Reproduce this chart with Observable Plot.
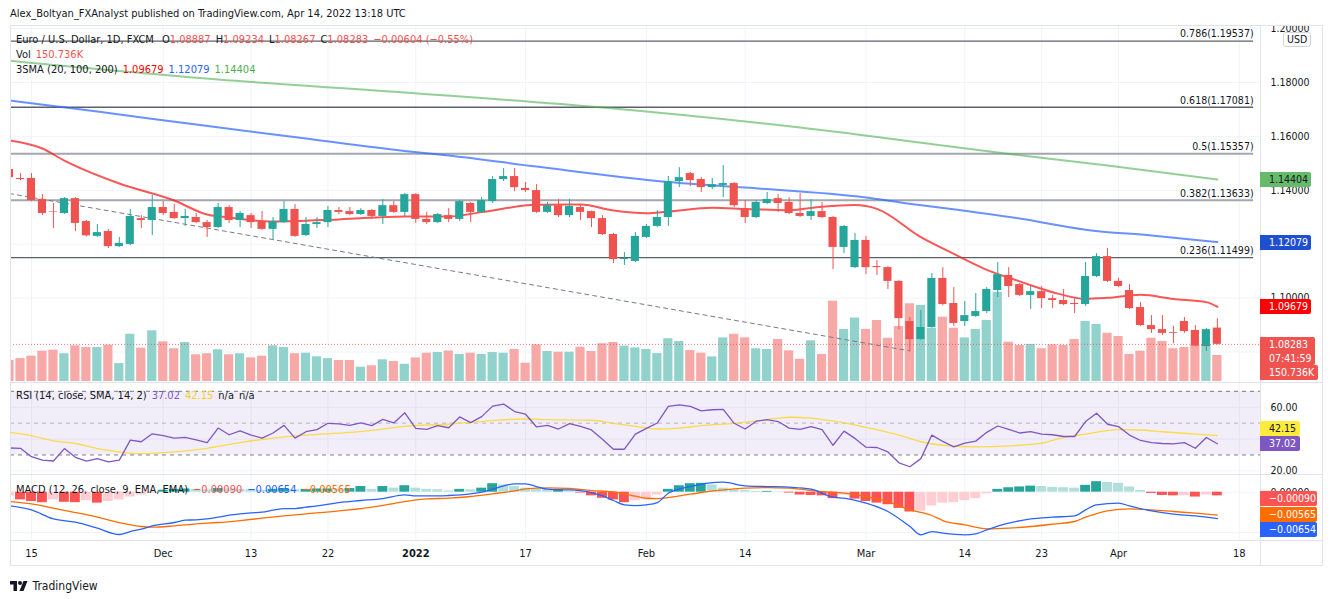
<!DOCTYPE html>
<html>
<head>
<meta charset="utf-8">
<script src="https://cdn.jsdelivr.net/npm/d3@7"></script>
<script src="https://cdn.jsdelivr.net/npm/@observablehq/plot@0.6"></script>
<style>
html,body{margin:0;padding:0;background:#fff;}
#root{position:relative;width:1332px;height:599px;overflow:hidden;background:#fff;color:#131722;
 font-family:"Liberation Sans Narrow","DejaVu Sans Condensed",Roboto,"Liberation Sans",sans-serif;}
.abs{position:absolute;}
.leg{position:absolute;left:16px;font-size:11px;white-space:nowrap;line-height:14px;}
.leg span{margin-right:5px;}
.box{position:absolute;left:1260px;font-size:10.5px;line-height:15px;padding-left:9px;box-sizing:border-box;border-radius:0 2px 2px 0;white-space:nowrap;}
</style>
</head>
<body>
<div id="root"></div>
<script>
// ---------- DATA ----------
const tickIdx = [2, 14, 22, 29, 37, 47, 58, 67, 78, 87, 94, 101, 112];
const tickLabels = ["15","Dec","13","22","2022","17","Feb","14","Mar","14","23","Apr","18"];

const openV = [1.1477,1.1444,1.1444,1.1366,1.1320,1.1314,1.1369,1.1284,1.1229,1.1247,
1.1191,1.1199,1.1295,1.1288,1.1336,1.1318,1.1295,1.1299,1.1280,1.1262,
1.1336,1.1288,1.1306,1.1284,1.1255,1.1280,1.1329,1.1232,1.1273,1.1280,
1.1325,1.1321,1.1310,1.1325,1.1303,1.1343,1.1318,1.1384,1.1292,1.1280,
1.1306,1.1292,1.1351,1.1318,1.1358,1.1440,1.1451,1.1407,1.1399,1.1318,
1.1343,1.1306,1.1336,1.1321,1.1295,1.1236,1.1143,1.1136,1.1225,1.1266,
1.1299,1.1432,1.1462,1.1440,1.1410,1.1418,1.1425,1.1332,1.1299,1.1351,
1.1369,1.1355,1.1314,1.1303,1.1321,1.1299,1.1188,1.1113,1.1214,1.1117,
1.1113,1.1062,1.0913,1.0846,1.0891,1.1073,1.0980,1.0913,1.0932,1.0950,
1.1028,1.1084,1.1050,1.1010,1.1024,1.0998,1.0991,1.0980,1.0976,1.1080,
1.1154,1.1062,1.1028,1.0965,1.0898,1.0883,1.0872,1.0913,1.0880,1.0820,1.08887];
const highV = [1.1484,1.1462,1.1462,1.1384,1.1351,1.1373,1.1373,1.1288,1.1273,1.1255,
1.1225,1.1329,1.1306,1.1381,1.1358,1.1347,1.1329,1.1314,1.1288,1.1351,
1.1343,1.1321,1.1314,1.1321,1.1299,1.1358,1.1347,1.1299,1.1299,1.1340,
1.1336,1.1336,1.1332,1.1329,1.1366,1.1358,1.1388,1.1388,1.1318,1.1314,
1.1332,1.1362,1.1355,1.1373,1.1451,1.1481,1.1481,1.1429,1.1421,1.1355,
1.1366,1.1366,1.1343,1.1323,1.1306,1.1240,1.1169,1.1243,1.1273,1.1325,
1.1451,1.1484,1.1466,1.1447,1.1444,1.1492,1.1429,1.1362,1.1362,1.1392,
1.1384,1.1373,1.1388,1.1366,1.1355,1.1303,1.1269,1.1240,1.1229,1.1139,
1.1117,1.1065,1.0928,1.0954,1.1091,1.1113,1.1039,1.0987,1.1017,1.1039,
1.1132,1.1113,1.1054,1.1043,1.1043,1.1010,1.1032,1.0998,1.1132,1.1165,
1.1184,1.1073,1.1050,1.0984,1.0935,1.0935,1.0895,1.0928,1.0898,1.0887,1.09234];
const lowV = [1.1440,1.1436,1.1358,1.1306,1.1258,1.1310,1.1247,1.1227,1.1225,1.1184,
1.1188,1.1195,1.1258,1.1232,1.1306,1.1292,1.1266,1.1277,1.1225,1.1258,
1.1277,1.1262,1.1258,1.1251,1.1217,1.1277,1.1225,1.1229,1.1258,1.1262,
1.1310,1.1306,1.1306,1.1292,1.1273,1.1314,1.1303,1.1277,1.1273,1.1277,
1.1280,1.1284,1.1280,1.1314,1.1351,1.1432,1.1395,1.1392,1.1314,1.1314,
1.1299,1.1299,1.1288,1.1262,1.1232,1.1128,1.1121,1.1132,1.1221,1.1262,
1.1266,1.1410,1.1414,1.1392,1.1403,1.1373,1.1336,1.1277,1.1295,1.1347,
1.1318,1.1310,1.1299,1.1288,1.1295,1.1106,1.1165,1.1110,1.1087,1.1084,
1.1032,1.0883,1.0802,1.0844,1.0889,1.0972,1.0895,1.0895,1.0928,1.0943,
1.1002,1.1002,1.1006,1.0958,1.0961,1.0961,1.0972,1.0943,1.0969,1.1076,
1.1058,1.1039,1.0958,1.0895,1.0869,1.0861,1.0831,1.0869,1.0820,1.0802,1.08267];
const closeV = [1.1447,1.1440,1.1362,1.1314,1.1318,1.1369,1.1277,1.1231,1.1243,1.1191,
1.1203,1.1303,1.1288,1.1336,1.1314,1.1295,1.1303,1.1280,1.1262,1.1336,
1.1288,1.1314,1.1280,1.1255,1.1284,1.1329,1.1229,1.1273,1.1280,1.1325,
1.1318,1.1310,1.1325,1.1303,1.1343,1.1318,1.1384,1.1292,1.1280,1.1310,
1.1292,1.1358,1.1318,1.1362,1.1440,1.1451,1.1410,1.1399,1.1318,1.1343,
1.1306,1.1340,1.1318,1.1295,1.1236,1.1143,1.1147,1.1229,1.1266,1.1299,
1.1432,1.1447,1.1436,1.1410,1.1421,1.1425,1.1343,1.1299,1.1355,1.1366,
1.1351,1.1314,1.1303,1.1321,1.1299,1.1188,1.1266,1.1214,1.1113,1.1113,
1.1062,1.0924,1.0846,1.0891,1.1073,1.0976,1.0906,1.0935,1.0950,1.1032,
1.1087,1.1043,1.1010,1.1024,1.0998,1.0991,1.0976,1.0976,1.1080,1.1154,
1.1062,1.1043,1.0961,1.0898,1.0883,1.0869,1.0869,1.0876,1.0822,1.0883,1.08283];
const volK = [122,133,147,176,182,161,207,197,197,211,
104,274,193,294,230,190,226,155,161,184,
155,161,137,147,207,197,161,164,143,133,
122,122,83,91,126,116,100,137,164,168,
177,157,164,157,168,164,186,106,213,174,
170,170,199,174,219,226,205,195,186,162,
248,232,180,164,143,253,274,253,190,186,
244,178,129,236,157,466,302,368,302,354,
251,319,451,441,309,373,309,253,302,354,
518,228,209,215,190,213,209,244,348,331,
280,261,157,176,251,232,190,197,209,209,150.736];

const sma20 = [[0,1.1585],[3,1.1555],[5,1.1510],[10,1.1425],[15,1.1362],[18,1.1310],[20,1.1299],[24,1.1284],[30,1.1292],[36,1.1303],[40,1.1303],[43,1.1319],[48,1.1346],[52,1.1347],[55,1.1325],[58,1.1315],[60,1.1321],[64,1.1335],[67,1.1331],[71,1.1326],[74,1.1339],[77,1.1345],[79,1.1331],[83,1.1226],[86,1.1164],[89,1.1105],[92,1.1062],[95,1.1022],[98,1.0997],[100,1.1001],[103,1.1012],[106,1.0997],[109,1.0985],[110,1.09679]];
const sma100 = [[0,1.1733],[8,1.1692],[17,1.1644],[27,1.1592],[36,1.1546],[40,1.1529],[48,1.1488],[60,1.1431],[67,1.1410],[78,1.1373],[81,1.1356],[92,1.1295],[98,1.1254],[104,1.1232],[110,1.12079]];
const sma200 = [[0,1.1881],[19,1.1811],[36,1.1763],[54,1.1707],[72,1.1633],[90,1.1540],[100,1.1492],[110,1.14404]];

const fibLevels = ["0.786","0.618","0.5","0.382","0.236"];
const fibPrices = [1.19537,1.17081,1.15357,1.13633,1.11499];
const trendLine = [[0,1.1388],[82,1.0804]];
const priceTicks = [1.08,1.10,1.12,1.14,1.16,1.18,1.20];

const rsiV = [34.4,34.2,28.9,26.8,26.2,34.0,28.5,26.2,27.7,25.6,
26.8,39.3,38.3,43.3,42.1,40.6,41.0,39.5,37.8,46.9,
42.7,45.2,42.5,40.6,43.8,48.6,40.6,44.6,45.9,49.9,
49.5,48.6,50.1,48.4,52.4,50.1,56.5,46.7,46.1,48.4,
47.1,53.9,50.3,54.1,60.7,62.0,57.3,55.6,47.6,48.6,
46.3,49.7,48.0,45.7,39.9,33.6,33.6,43.1,46.7,50.1,
60.5,61.5,60.5,57.7,58.4,58.6,49.9,46.3,51.2,52.2,
51.0,46.9,46.1,47.8,45.9,36.1,45.0,40.4,34.9,34.7,
31.9,25.1,22.6,27.7,42.5,38.5,35.1,37.4,38.7,44.2,
48.2,46.1,43.8,44.6,43.1,42.7,41.6,41.6,51.0,56.2,
49.3,47.8,42.5,39.1,37.8,37.2,37.0,37.8,34.2,41.0,37.02];
const rsiSma = [[0,44.2],[2,42.1],[4,38.9],[6,37.2],[8,34.0],[10,31.9],[12,30.8],[15,31.9],[18,34.2],[21,37.8],[24,40.6],[27,42.5],[31,44.2],[34,46.3],[36,48.0],[40,49.3],[44,51.6],[47,52.6],[49,52.2],[53,51.8],[55,49.9],[57,48.0],[59,46.3],[61,46.9],[63,48.4],[66,49.9],[68,51.2],[70,53.1],[71,53.7],[73,53.1],[76,50.1],[78,47.4],[81,42.5],[83,38.3],[85,36.1],[88,35.1],[91,35.7],[94,37.4],[96,41.0],[98,43.1],[101,45.9],[103,45.7],[105,44.6],[108,43.1],[110,42.15]];
const rsiGrid = [20,40,60];
const rsiTickLabels = [20,60];

const macdLine = [[0,-0.00338],[2,-0.00437],[4,-0.00660],[6,-0.00742],[8,-0.00890],[10,-0.01047],[11,-0.00973],[12,-0.00915],[13,-0.00833],[15,-0.00750],[16,-0.00692],[17,-0.00684],[18,-0.00660],[19,-0.00618],[20,-0.00569],[21,-0.00536],[22,-0.00511],[23,-0.00495],[24,-0.00445],[25,-0.00404],[26,-0.00404],[27,-0.00371],[28,-0.00338],[30,-0.00256],[32,-0.00206],[34,-0.00157],[36,-0.00066],[37,-0.00091],[39,-0.00091],[40,-0.00082],[42,-0.00041],[43,0],[44,0.00074],[45,0.00157],[46,0.00206],[47,0.00206],[48,0.00140],[49,0.00074],[50,0.00058],[51,0.00058],[52,0.00041],[53,-0.00008],[54,-0.00091],[55,-0.00206],[56,-0.00313],[57,-0.00330],[58,-0.00313],[59,-0.00256],[60,-0.00025],[62,0.00140],[65,0.00247],[67,0.00157],[69,0.00140],[71,0.00124],[73,0.00074],[75,-0.00124],[76,-0.00148],[78,-0.00272],[80,-0.00478],[82,-0.00849],[83,-0.01055],[84,-0.00973],[85,-0.01014],[87,-0.01055],[88,-0.01031],[89,-0.00932],[91,-0.00767],[93,-0.00660],[95,-0.00618],[97,-0.00585],[98,-0.00437],[99,-0.00313],[101,-0.00272],[102,-0.00338],[104,-0.00462],[106,-0.00544],[108,-0.00585],[110,-0.00654]];
const signalLine = [[0,-0.00231],[2,-0.00289],[4,-0.00396],[6,-0.00503],[8,-0.00618],[10,-0.00750],[12,-0.00849],[13,-0.00866],[15,-0.00833],[17,-0.00783],[19,-0.00750],[21,-0.00701],[23,-0.00643],[25,-0.00585],[27,-0.00536],[30,-0.00462],[33,-0.00371],[36,-0.00231],[38,-0.00165],[40,-0.00148],[42,-0.00107],[44,-0.00041],[46,0.00033],[47,0.00082],[49,0.00107],[51,0.00091],[53,0.00041],[55,0.00005],[56,-0.0004],[57,-0.0010],[58,-0.00150],[59,-0.00157],[61,-0.00091],[63,-0.00008],[65,0.00058],[67,0.00099],[69,0.00115],[71,0.00099],[72,0.00074],[74,0.00016],[76,-0.00025],[78,-0.00107],[80,-0.00231],[82,-0.00437],[84,-0.00577],[85,-0.00701],[87,-0.00808],[89,-0.00907],[91,-0.00890],[93,-0.00849],[95,-0.00791],[97,-0.00725],[98,-0.00618],[100,-0.00462],[102,-0.00412],[104,-0.00437],[106,-0.00478],[108,-0.00519],[110,-0.00565]];
const histV = [-0.0009,-0.0019,-0.0023,-0.0026,-0.0019,-0.0025,-0.0026,-0.0021,-0.0027,-0.0023,
-0.0019,-0.0012,-0.0007,-0.0003,0.0005,0.0007,0.0008,0.0007,0.0006,0.0009,
0.0008,0.0007,0.0006,0.0005,0.0007,0.0009,0.0006,0.0007,0.0008,0.0008,
0.0007,0.0009,0.0014,0.0007,0.0014,0.0010,0.0016,0.0010,0.0007,0.0006,
0.0003,0.0007,0.0006,0.0010,0.0021,0.0018,0.0014,0.0010,0.0007,0.0006,
0.0007,0.0002,-0.0002,-0.0009,-0.0015,-0.0019,-0.0026,-0.0021,-0.0019,-0.0007,
0.0007,0.0016,0.0021,0.0022,0.0018,0.0010,0.0006,0.0004,0.0002,0.0002,
0.0001,-0.0002,-0.0007,-0.0008,-0.0009,-0.0016,-0.0007,-0.0017,-0.0023,-0.0027,
-0.0031,-0.0040,-0.0049,-0.0047,-0.0034,-0.0027,-0.0026,-0.0021,-0.0016,-0.0004,
0.0007,0.0011,0.0013,0.0015,0.0014,0.0012,0.0011,0.0010,0.0017,0.0026,
0.0024,0.0022,0.0013,0.0004,-0.0003,-0.0008,-0.0009,-0.00088,-0.0012,-0.0007,-0.0009];
const macdGrid = [-0.01, 0];
const macdTickLabels = [0];

// ---------- LAYOUT ----------
const root = document.getElementById("root");
const FONT = getComputedStyle(root).fontFamily;
const W = 1313, MR = 63;
const xDomain = [0.09, 113.93];
const UP = "#26a69a", DOWN = "#ef5350", VUP = "#92d2cc", VDOWN = "#f7a9a7";
const GRID = "#f0f3fa";

const candles = closeV.map((c, i) => ({i, o: openV[i], h: highV[i], l: lowV[i], c, v: volK[i], rsi: rsiV[i], hist: histV[i]}));

function mount(svg, top, height) {
  const d = document.createElement("div");
  d.className = "abs";
  d.style.cssText = `left:10px;top:${top}px;width:${W}px;height:${height}px;`;
  d.appendChild(svg);
  root.appendChild(d);
  return svg;
}
const baseStyle = {background: "transparent", fontFamily: FONT, fontSize: "10.5px", color: "#131722", overflow: "hidden"};
function opts(height, y, marks, extra = {}) {
  return Object.assign({width: W, height, marginLeft: 0, marginRight: MR, marginTop: 0, marginBottom: 0,
    style: baseStyle, x: {domain: xDomain, axis: null}, y, marks}, extra);
}
function div(html, css, cls) {
  const d = document.createElement("div");
  if (cls) d.className = cls;
  d.style.cssText = css;
  d.innerHTML = html;
  root.appendChild(d);
  return d;
}

// title
div("Alex_Boltyan_FXAnalyst published on TradingView.com, Apr 14, 2022 13:18 UTC",
  "position:absolute;left:10px;top:6px;font-size:11px;line-height:16px;color:#131722;white-space:nowrap;");

const priceDomain = [1.06831, 1.20115];

// layer 1: grid
mount(Plot.plot(opts(358, {domain: priceDomain, axis: null}, [
  Plot.ruleY(priceTicks, {stroke: GRID}),
  Plot.ruleX(tickIdx, {stroke: GRID})
])), 25, 358);

// layer 2: volume
mount(Plot.plot(opts(358, {domain: [0, 2065], axis: null}, [
  Plot.rect(candles, {x1: d => d.i - 0.42, x2: d => d.i + 0.42, y1: 0, y2: "v", fill: d => d.c >= d.o ? VUP : VDOWN, clip: true})
], {marginBottom: 2})), 25, 358);

// layer 3: price
const fibRows = fibPrices.map((p, k) => ({p, label: `${fibLevels[k]}(${p.toFixed(5)})`, light: fibLevels[k] === "0.5" || fibLevels[k] === "0.382"}));
const mainPlot = mount(Plot.plot(opts(358,
  {domain: priceDomain, axis: "right", ticks: priceTicks, tickFormat: d3.format(".5f"), tickSize: 0, tickPadding: 10, label: null}, [
  Plot.ruleY(fibRows.filter(d => !d.light), {y: "p", x1: -5, x2: 113.3, stroke: "#5d606b", strokeWidth: 1.3, clip: true}),
  Plot.ruleY(fibRows.filter(d => d.light), {y: "p", x1: -5, x2: 113.3, stroke: "#a3a6af", strokeWidth: 2, clip: true}),
  Plot.text(fibRows, {x: 113.3, y: "p", text: "label", textAnchor: "end", dy: -7, fontSize: 10.5, fill: "#131722"}),
  Plot.line(trendLine, {x: d => d[0], y: d => d[1], stroke: "#787b86", strokeDasharray: "4,4", strokeWidth: 1, clip: true}),
  Plot.line(sma200, {x: d => d[0], y: d => d[1], stroke: "#4caf50", strokeOpacity: 0.6, strokeWidth: 2, curve: "monotone-x", clip: true}),
  Plot.line(sma100, {x: d => d[0], y: d => d[1], stroke: "#2962ff", strokeOpacity: 0.7, strokeWidth: 2, curve: "monotone-x", clip: true}),
  Plot.line(sma20, {x: d => d[0], y: d => d[1], stroke: "#f81e1e", strokeOpacity: 0.75, strokeWidth: 2, curve: "monotone-x", clip: true}),
  Plot.ruleX(candles, {x: "i", y1: "l", y2: "h", stroke: d => d.c >= d.o ? UP : DOWN, strokeWidth: 1, clip: true}),
  Plot.rect(candles, {x1: d => d.i - 0.37, x2: d => d.i + 0.37, y1: "o", y2: "c", fill: d => d.c >= d.o ? UP : DOWN, clip: true}),
  Plot.ruleY([closeV[closeV.length - 1]], {stroke: DOWN, strokeDasharray: "1,2", strokeOpacity: 0.8})
])), 25, 358);

// RSI pane
const rsiPlot = mount(Plot.plot(opts(92,
  {domain: [17.1, 74.9], axis: "right", ticks: rsiTickLabels, tickFormat: d3.format(".2f"), tickSize: 0, tickPadding: 10, label: null}, [
  Plot.ruleX(tickIdx, {stroke: GRID}),
  Plot.ruleY(rsiGrid, {stroke: GRID}),
  Plot.rect([0], {x1: xDomain[0], x2: xDomain[1], y1: 30, y2: 70, fill: "#7e57c2", fillOpacity: 0.1}),
  Plot.ruleY([30, 70], {stroke: "#787b86", strokeDasharray: "4,4"}),
  Plot.ruleY([50], {stroke: "#b2b5be", strokeDasharray: "4,4"}),
  Plot.line(rsiSma, {x: d => d[0], y: d => d[1], stroke: "#fdd835", strokeOpacity: 0.9, strokeWidth: 1.3, curve: "monotone-x", clip: true}),
  Plot.line(candles, {x: "i", y: "rsi", stroke: "#7e57c2", strokeWidth: 1.3, clip: true})
], {style: Object.assign({}, baseStyle, {overflow: "visible"})})), 383, 92);

// MACD pane
function histColor(i) {
  const v = histV[i], p = i > 0 ? histV[i - 1] : v;
  if (v >= 0) return v >= p ? "#26a69a" : "#b2dfdb";
  return v < p ? "#ff5252" : "#ffcdd2";
}
const macdPlot = mount(Plot.plot(opts(65,
  {domain: [-0.01195, 0.00413], axis: "right", ticks: macdTickLabels, tickFormat: d3.format(".5f"), tickSize: 0, tickPadding: 10, label: null}, [
  Plot.ruleX(tickIdx, {stroke: GRID}),
  Plot.ruleY(macdGrid, {stroke: GRID}),
  Plot.rect(candles, {x1: d => d.i - 0.45, x2: d => d.i + 0.45, y1: 0, y2: "hist", fill: d => histColor(d.i), clip: true}),
  Plot.line(signalLine, {x: d => d[0], y: d => d[1], stroke: "#ff6d00", strokeWidth: 1.3, curve: "monotone-x", clip: true}),
  Plot.line(macdLine, {x: d => d[0], y: d => d[1], stroke: "#2962ff", strokeWidth: 1.3, curve: "monotone-x", clip: true})
])), 475, 65);

// time axis
const xTicks = tickIdx.map((x, k) => ({x, label: tickLabels[k]}));
mount(Plot.plot(opts(26, undefined, [
  Plot.text(xTicks.filter(d => d.label !== "2022"), {x: "x", text: "label", frameAnchor: "middle", fontSize: 11, fill: "#131722"}),
  Plot.text(xTicks.filter(d => d.label === "2022"), {x: "x", text: "label", frameAnchor: "middle", fontSize: 11, fontWeight: "bold", fill: "#131722"})
])), 540, 26);

// frame lines
div("", "position:absolute;left:10px;top:25px;width:1313px;height:541px;border:1px solid #e0e3eb;box-sizing:border-box;");
div("", "position:absolute;left:1260px;top:25px;width:1px;height:541px;background:#e0e3eb;");
div("", "position:absolute;left:10px;top:382px;width:1313px;height:1px;background:#e0e3eb;");
div("", "position:absolute;left:10px;top:474px;width:1313px;height:1px;background:#e0e3eb;");
div("", "position:absolute;left:10px;top:540px;width:1313px;height:1px;background:#e0e3eb;");

// legends
const R = "#ef5350";
div(`<span>Euro / U.S. Dollar, 1D, FXCM</span><span style="margin-left:3px">O<b style="font-weight:normal;color:${R}">1.08887</b></span><span>H<b style="font-weight:normal;color:${R}">1.09234</b></span><span>L<b style="font-weight:normal;color:${R}">1.08267</b></span><span>C<b style="font-weight:normal;color:${R}">1.08283</b></span><span style="color:${R}">−0.00604 (−0.55%)</span>`, "top:33px;", "leg");
div(`<span>Vol</span><span style="color:${R}">150.736K</span>`, "top:48px;", "leg");
div(`<span>3SMA (20, 100, 200)</span><span style="color:#ff0000">1.09679</span><span style="color:#2962ff">1.12079</span><span style="color:#4caf50">1.14404</span>`, "top:63px;", "leg");
div(`<span>RSI (14, close, SMA, 14, 2)</span><span style="color:#7e57c2">37.02</span><span style="color:#f5d02c">42.15</span><span>n/a</span><span>n/a</span>`, "top:389px;", "leg");
div(`<span>MACD (12, 26, close, 9, EMA, EMA)</span><span style="color:#ff5252">−0.00090</span><span style="color:#2962ff">−0.00654</span><span style="color:#ff6d00">−0.00565</span>`, "top:483px;", "leg");

// axis value labels
function box(text, bg, fg, top, width, height = 15, lh = 15) {
  return div(text, `top:${top}px;width:${width}px;height:${height}px;line-height:${lh}px;background:${bg};color:${fg};`, "box");
}
const ys = mainPlot.scale("y"), yr = rsiPlot.scale("y"), ym = macdPlot.scale("y");
div("USD", "position:absolute;left:1283px;top:32px;font-size:10.5px;line-height:13px;padding:0 3px;border:1px solid #d1d4dc;border-radius:3px;background:#fff;color:#131722;");
box("1.14404", "#66bb6a", "#131722", Math.round(25 + ys.apply(1.14404) - 7), 51);
box("1.12079", "#1f4fd1", "#fff", Math.round(25 + ys.apply(1.12079) - 7), 51);
box("1.09679", "#ff0000", "#fff", Math.round(25 + ys.apply(1.09679) - 7), 51);
const pTop = Math.round(25 + ys.apply(closeV[closeV.length - 1]) - 7);
box("1.08283<br>07:41:59", R, "#fff", pTop, 55, 28, 14);
box("150.736K", R, "#fff", pTop + 28, 58, 15, 15);
const rsiTop = Math.round(383 + yr.apply(37.02) - 7.5);
box("37.02", "#7e57c2", "#fff", rsiTop, 40);
box("42.15", "#ffeb3b", "#131722", rsiTop - 15, 40);
box("−0.00090", "#ff5252", "#fff", Math.round(475 + ym.apply(-0.0009) - 4), 57);
const orTop = Math.round(475 + ym.apply(-0.00565) - 7.5);
box("−0.00565", "#ff6d00", "#fff", orTop, 57);
box("−0.00654", "#2962ff", "#fff", orTop + 15, 57);

// footer logo
div(`<svg width="18" height="11" viewBox="0 0 36 22" style="vertical-align:-1px"><path d="M14 22H7V9H0V2h14z" fill="#131722"/><circle cx="20" cy="6" r="4" fill="#131722"/><path d="M27 22h-8l8-20h8z" fill="#131722"/></svg> <span style="font-size:12px">TradingView</span>`,
  "position:absolute;left:10px;top:575px;white-space:nowrap;color:#131722;");
</script>
</body>
</html>
